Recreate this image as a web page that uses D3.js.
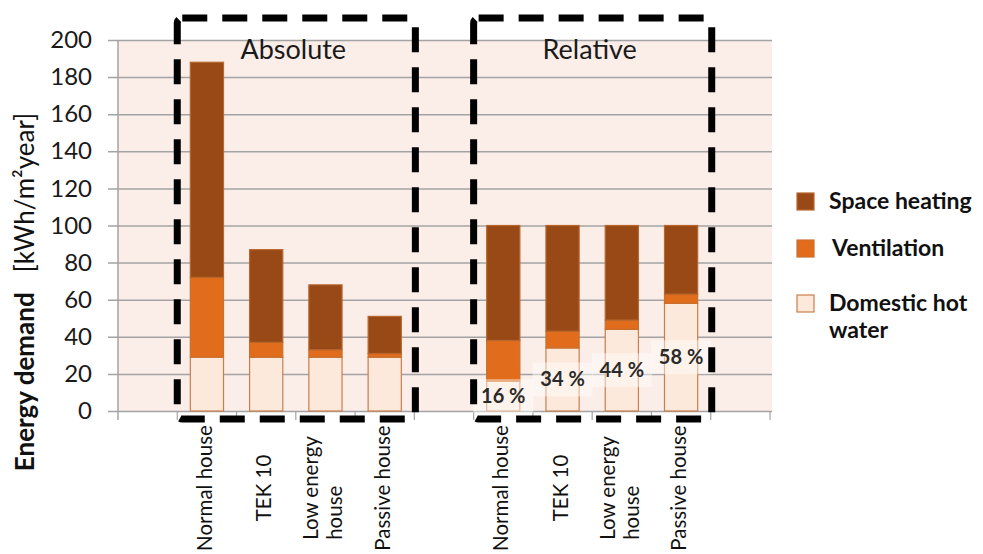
<!DOCTYPE html>
<html>
<head>
<meta charset="utf-8">
<script src="https://cdn.jsdelivr.net/npm/d3@7"></script>
<style>
  body { margin: 0; background: #fff; }
  svg text { font-family: Lato, "Open Sans", sans-serif; }
</style>
</head>
<body>
<div id="chart"></div>
<script>
// categories and values
var houses = ['Normal house', 'TEK 10', 'Low energy house', 'Passive house'];
var labelLines = [['Normal house'], ['TEK 10'], ['Low energy', 'house'], ['Passive house']];
var absDHW = [29, 29, 29, 29];
var absVent = [43, 8, 4, 2];
var absSpace = [116, 50, 35, 20];
var relDHW = [16, 34, 44, 58];
var relVent = [22, 9, 5, 5];
var relSpace = [62, 57, 51, 37];
var yTicks = [0, 20, 40, 60, 80, 100, 120, 140, 160, 180, 200];
var seriesNames = ['Space heating', 'Ventilation', 'Domestic hot water'];

var W = 983, H = 554;
var margin = {top: 40, left: 118},
    width = 652,
    height = 371;

// 11 slots: empty, 4 absolute, empty, 4 relative, empty
var slots = ['p0', 'a0', 'a1', 'a2', 'a3', 'gap', 'r0', 'r1', 'r2', 'r3', 'p1'];
var rows = [];
houses.forEach(function(h, i) {
    rows.push({slot: 'a' + i, i: i, dhw: absDHW[i], vent: absVent[i], space: absSpace[i]});
});
houses.forEach(function(h, i) {
    rows.push({slot: 'r' + i, i: i, dhw: relDHW[i], vent: relVent[i], space: relSpace[i], pct: relDHW[i]});
});

var xScale = d3.scaleBand().domain(slots).range([0, width]).padding(0);
var yScale = d3.scaleLinear().domain([0, 200]).range([height, 0]);
var colors = {space: '#984915', vent: '#e16c1b', dhw: '#fde9db'};
var strokes = {space: '#b8662e', vent: '#c8702e', dhw: '#c97f4c'};

var stackGen = d3.stack().keys(['dhw', 'vent', 'space']);
var stacked = stackGen(rows);

var svg = d3.select('#chart').append('svg')
    .attr('width', W).attr('height', H);
var g = svg.append('g').attr('transform', 'translate(' + margin.left + ',' + margin.top + ')');

// plot background
g.append('rect')
    .attr('x', 0).attr('y', 0)
    .attr('width', width + 2).attr('height', height)
    .style('fill', '#fbede8');

// grid lines + y axis
var yAxis = d3.axisLeft(yScale).tickValues(yTicks).tickSize(-(width + 12)).tickPadding(16);
var yG = g.append('g').attr('transform', 'translate(' + (-10) + ',0)').call(yAxis);
yG.select('.domain').remove();
yG.selectAll('.tick line').attr('stroke', '#a3a3a3').attr('stroke-width', 1.5);
yG.selectAll('.tick text')
    .attr('x', -16)
    .style('font-size', '24px')
    .style('fill', '#1a1a1a');
g.append('line')
    .attr('x1', 0).attr('x2', 0).attr('y1', 0).attr('y2', height + 9)
    .attr('stroke', '#a3a3a3').attr('stroke-width', 1.5);

// x ticks at slot boundaries
var bounds = slots.slice(1).map(function(s) { return xScale(s); }).concat([width]);
g.selectAll('.xtick').data(bounds).join('line')
    .attr('class', 'xtick')
    .attr('x1', d => d).attr('x2', d => d)
    .attr('y1', height).attr('y2', height + 9)
    .attr('stroke', '#a3a3a3').attr('stroke-width', 1.2);

// stacked bars
var bw = xScale.bandwidth() * 0.56;
g.selectAll('.layer').data(stacked).join('g')
    .attr('class', 'layer')
    .selectAll('rect').data(function(d) { return d.map(function(p) { p.key = d.key; return p; }); })
    .join('rect')
    .attr('x', d => xScale(d.data.slot) + (xScale.bandwidth() - bw) / 2)
    .attr('width', bw)
    .attr('y', d => yScale(d[1]))
    .attr('height', d => yScale(d[0]) - yScale(d[1]))
    .style('fill', d => colors[d.key])
    .style('stroke', d => strokes[d.key])
    .style('stroke-width', 1.2);

// percentage labels in the relative group
var pctRows = rows.filter(d => d.pct != null);
var pl = g.selectAll('.pct').data(pctRows).join('g')
    .attr('class', 'pct')
    .attr('transform', d => 'translate(' + (xScale(d.slot) + xScale.bandwidth() / 2) + ',' + yScale(d.dhw / 2) + ')');
pl.append('rect')
    .attr('x', -30).attr('y', -17).attr('width', 60).attr('height', 34)
    .style('fill', '#fff').style('opacity', 0.45);
pl.append('text')
    .attr('text-anchor', 'middle')
    .attr('dy', '0.35em')
    .style('font-size', '20px')
    .style('font-weight', 'bold')
    .style('fill', '#2a2a2a')
    .text(d => d.pct + ' %');

// rotated category labels
var catLabels = rows.map(function(d) { return {slot: d.slot, lines: labelLines[d.i]}; });
var lblG = g.selectAll('.xlabel').data(catLabels).join('g')
    .attr('class', 'xlabel')
    .attr('transform', d => 'translate(' + (xScale(d.slot) + xScale.bandwidth() / 2 - 3) + ',' + (height + 77) + ') rotate(-90)');
lblG.each(function(d) {
    var sel = d3.select(this);
    var n = d.lines.length;
    var texts = d.lines.map(function(line, k) {
        return sel.append('text')
            .attr('y', (k - (n - 1) / 2) * 24)
            .attr('dominant-baseline', 'central')
            .style('font-size', '20.5px')
            .style('fill', '#111')
            .text(line);
    });
    var w0 = texts[0].node().getComputedTextLength();
    texts.forEach(function(t) { t.attr('x', -w0 / 2); });
});

// dashed group boxes
var boxes = [
    {from: 'a0', to: 'a3', title: 'Absolute'},
    {from: 'r0', to: 'r3', title: 'Relative'}
];
boxes.forEach(function(b) {
    var x0 = xScale(b.from), x1 = xScale(b.to) + xScale.bandwidth() + 1;
    var top = yScale(200) - 22, bottom = yScale(0) + 8;
    g.append('rect')
        .attr('x', x0).attr('y', top)
        .attr('width', x1 - x0).attr('height', bottom - top)
        .attr('rx', 5)
        .style('fill', 'none')
        .style('stroke', '#000')
        .style('stroke-width', 7)
        .style('stroke-dasharray', '25,15');
    g.append('text')
        .attr('x', (x0 + x1) / 2 - 3)
        .attr('y', yScale(200) + 19)
        .attr('text-anchor', 'middle')
        .style('font-size', '27px')
        .style('fill', '#1a1a1a')
        .text(b.title);
});

// y axis title
var yt = svg.append('text')
    .attr('transform', 'translate(34,292) rotate(-90)')
    .attr('text-anchor', 'middle')
    .style('font-size', '26px')
    .style('fill', '#111');
yt.append('tspan').style('font-weight', 'bold').text('Energy demand');
yt.append('tspan').attr('xml:space', 'preserve').text('   [kWh/m\u00b2year]');

// legend
var legendItems = [
    {name: seriesNames[0], key: 'space', y: 193, lines: ['Space heating']},
    {name: seriesNames[1], key: 'vent', y: 240, lines: ['Ventilation']},
    {name: seriesNames[2], key: 'dhw', y: 295, lines: ['Domestic hot', 'water']}
];
var lg = svg.append('g').attr('class', 'legend');
legendItems.forEach(function(it) {
    lg.append('rect')
        .attr('x', 797).attr('y', it.y)
        .attr('width', 17).attr('height', 17)
        .style('fill', colors[it.key])
        .style('stroke', strokes[it.key])
        .style('stroke-width', 1.2);
    it.lines.forEach(function(line, k) {
        lg.append('text')
            .attr('x', 829 + (it.key === 'vent' ? 3 : 0))
            .attr('y', it.y + 16 + k * 27)
            .style('font-size', '23px')
            .style('font-weight', 'bold')
            .style('fill', '#111')
            .text(line);
    });
});
</script>
</body>
</html>
